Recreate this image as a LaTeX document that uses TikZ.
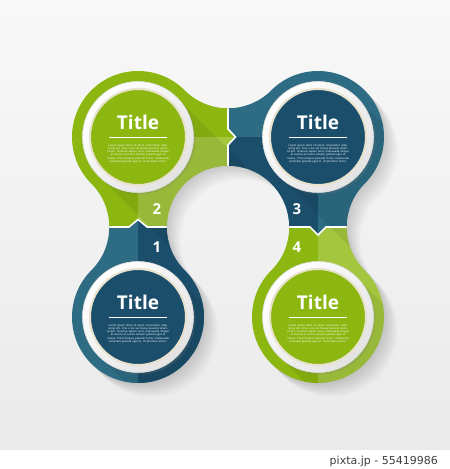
\documentclass[tikz,border=0pt]{standalone}
\usepackage{fontspec}
\setsansfont{Open Sans}
\newfontfamily\footfont{DejaVu Sans}
\usetikzlibrary{calc, shadows}

\definecolor{greenbase}{RGB}{139,183,16}
\definecolor{greenlight}{RGB}{164,198,62}
\definecolor{bluelight}{RGB}{46,108,132}
\definecolor{bluedark}{RGB}{27,78,107}
\definecolor{ringcream}{RGB}{232,226,204}
\definecolor{bgtop}{RGB}{248,248,248}
\definecolor{bgbottom}{RGB}{234,234,234}

% outline of the four joined circles (open at the bottom)
\newcommand{\loopshape}{(228,360.72)
  arc[start angle=270, end angle=225, radius=61.28]
  arc[start angle=45, end angle=225, radius=66]
  arc[start angle=45, end angle=-45, radius=61.28]
  arc[start angle=135, end angle=405, radius=66]
  arc[start angle=225, end angle=-45, radius=61.28]
  arc[start angle=135, end angle=405, radius=66]
  arc[start angle=225, end angle=135, radius=61.28]
  arc[start angle=-45, end angle=135, radius=66]
  arc[start angle=315, end angle=270, radius=61.28] -- cycle}
\newcommand{\lorem}{Lorem ipsum dolor sit amet, consectetur adipiscing elit. Cras a leo vel massa placerat ullamcorper. Vivamus sapien nunc, malesuada integer et viverra at, luctus tempor gravida eget id massa. Proin tempus placerat tortor, malesuada venenatis gravida eget et. Ut pharetra tortor.}

\begin{document}
\begin{tikzpicture}[
    x=1pt, y=1pt,
    ring/.style={circle, minimum size=111pt, inner sep=0pt, top color=white, bottom color=gray!22, shading angle=45, draw=gray!25, line width=0.6pt, drop shadow={shadow xshift=2pt, shadow yshift=-2pt, opacity=0.2}},
    disc/.style={circle, minimum size=96pt, inner sep=0pt, draw=ringcream, line width=2pt},
    title/.style={font=\sffamily\bfseries\fontsize{19}{19}\selectfont, text=white, inner sep=0pt, anchor=base},
    rule/.style={fill=white, minimum width=58pt, minimum height=1.4pt, inner sep=0pt},
    body/.style={font=\sffamily\fontsize{2.7}{3.2}\selectfont, text=white, text width=64pt, align=center, inner sep=0pt, anchor=north},
    num/.style={font=\sffamily\bfseries\fontsize{15}{15}\selectfont, text=white, inner sep=0pt},
    sep/.style={white, line width=1.6pt},
    longshadow/.style={black, opacity=0.07}
]
    \useasboundingbox (0,0) rectangle (450,469);
    % background
    \shade[top color=bgtop, bottom color=bgbottom] (0,19) rectangle (450,469);
    \fill[white] (0,0) rectangle (450,19);
    \foreach \s in {1,...,14}
        \fill[black, opacity=0.01, shift={(\s,-\s)}] \loopshape;

    \begin{scope}
        \clip \loopshape;
        % step 2, top left
        \begin{scope}
            \clip (0,469) -- (228,469) -- (228,340) -- (235.5,332) -- (228,324) -- (228,242) -- (147,242) -- (138,249.5) -- (129,242) -- (0,242) -- cycle;
            \fill[greenbase] (0,242) rectangle (240,469);
            \fill[greenlight] (138,242) rectangle (240,332);
        \end{scope}
        % step 3, top right
        \begin{scope}
            \clip (228,469) -- (450,469) -- (450,242) -- (326,242) -- (318,234) -- (310,242) -- (228,242) -- (228,324) -- (235.5,332) -- (228,340) -- cycle;
            \fill[bluelight] (220,230) rectangle (450,469);
            \fill[bluedark] (220,230) rectangle (318,332);
        \end{scope}
        % step 1, bottom left
        \begin{scope}
            \clip (0,0) -- (228,0) -- (228,242) -- (147,242) -- (138,249.5) -- (129,242) -- (0,242) -- cycle;
            \fill[bluelight] (0,0) rectangle (228,252);
            \fill[bluedark] (138,0) rectangle (228,252);
        \end{scope}
        % step 4, bottom right
        \begin{scope}
            \clip (228,0) -- (450,0) -- (450,242) -- (326,242) -- (318,234) -- (310,242) -- (228,242) -- cycle;
            \fill[greenbase] (228,0) rectangle (318,242);
            \fill[greenlight] (318,0) rectangle (450,242);
        \end{scope}
        % long shadows of the rings
        \fill[longshadow, shift={(138,332)}] (39,39) -- (119,-41) -- (41,-119) -- (-39,-39) -- cycle;
        \fill[longshadow, shift={(318,332)}] (39,39) -- (119,-41) -- (41,-119) -- (-39,-39) -- cycle;
        \fill[longshadow, shift={(138,152)}] (39,39) -- (119,-41) -- (41,-119) -- (-39,-39) -- cycle;
        \fill[longshadow, shift={(318,152)}] (39,39) -- (119,-41) -- (41,-119) -- (-39,-39) -- cycle;
        % joints
        \draw[sep] (228,295) -- (228,324) -- (235.5,332) -- (228,340) -- (228,370);
        \draw[sep] (100,242) -- (129,242) -- (138,249.5) -- (147,242) -- (175,242);
        \draw[sep] (280,242) -- (310,242) -- (318,234) -- (326,242) -- (356,242);
    \end{scope}

    \node[ring] (ring1) at (138,152) {};
    \node[ring] (ring2) at (138,332) {};
    \node[ring] (ring3) at (318,332) {};
    \node[ring] (ring4) at (318,152) {};
    \node[disc, fill=bluedark] (disc1) at (ring1) {};
    \node[disc, fill=greenbase] (disc2) at (ring2) {};
    \node[disc, fill=bluedark] (disc3) at (ring3) {};
    \node[disc, fill=greenbase] (disc4) at (ring4) {};

    \node[title] (title1) at ([yshift=7pt]disc1.center) {Title};
    \node[title] (title2) at ([yshift=7pt]disc2.center) {Title};
    \node[title] (title3) at ([yshift=7pt]disc3.center) {Title};
    \node[title] (title4) at ([yshift=7pt]disc4.center) {Title};
    \node[rule] (rule1) at ([yshift=-0.5pt]disc1.center) {};
    \node[rule] (rule2) at ([yshift=-0.5pt]disc2.center) {};
    \node[rule] (rule3) at ([yshift=-0.5pt]disc3.center) {};
    \node[rule] (rule4) at ([yshift=-0.5pt]disc4.center) {};
    \node[body] (body1) at ([yshift=-7pt]disc1.center) {\lorem};
    \node[body] (body2) at ([yshift=-7pt]disc2.center) {\lorem};
    \node[body] (body3) at ([yshift=-7pt]disc3.center) {\lorem};
    \node[body] (body4) at ([yshift=-7pt]disc4.center) {\lorem};

    \node[num] (num1) at (157,222) {1};
    \node[num] (num2) at (157,260) {2};
    \node[num] (num3) at (297,260) {3};
    \node[num] (num4) at (297,222) {4};

    \node[font=\footfont\fontsize{11}{11}\selectfont, text=black!75, anchor=base east, inner sep=0pt] (footer) at (438,4.5) {pixta.jp - 55419986};
\end{tikzpicture}
\end{document}
